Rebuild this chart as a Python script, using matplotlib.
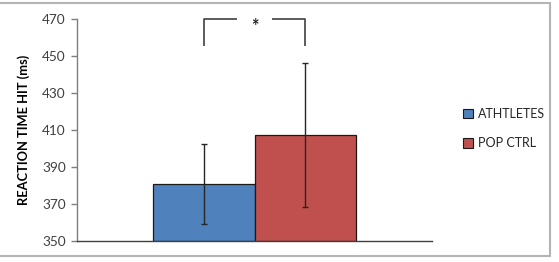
import matplotlib.pyplot as plt
from matplotlib.patches import Rectangle

# data
groups = ["ATHTLETES", "POP CTRL"]
means = [380.6, 407.4]
errors = [21.5, 38.9]
colors = ["#4F81BD", "#C0504D"]
y_ticks = [350, 370, 390, 410, 430, 450, 470]

plt.rcParams["font.family"] = ["Lato", "DejaVu Sans"]

fig = plt.figure(figsize=(5.59, 2.62), dpi=100)
ax = fig.add_axes([77 / 559, 1 - 240.7 / 262, 355 / 559, 221.7 / 262])

x = list(range(len(groups)))
bars = ax.bar(x, [m - y_ticks[0] for m in means], bottom=y_ticks[0], width=1.0,
              color=colors, edgecolor="#1a1a1a", linewidth=0.9, label=None)
ax.errorbar(x, means, yerr=errors, fmt="none", ecolor="#262626",
            elinewidth=1.0, capsize=2.5, capthick=1.0)

ax.set_xlim(-1.25, 2.25)
ax.set_ylim(y_ticks[0], y_ticks[-1])
ax.set_yticks(y_ticks)
ax.set_xticks([])
for s in ["top", "right"]:
    ax.spines[s].set_visible(False)
ax.spines["left"].set_color("#7f7f7f")
ax.spines["bottom"].set_color("#404040")
ax.spines["left"].set_linewidth(1.0)
ax.spines["bottom"].set_linewidth(1.0)
ax.tick_params(axis="y", length=4, width=1.0, color="#7f7f7f",
               labelsize=9.8, labelcolor="#404040", pad=4)
ax.set_ylabel("REACTION TIME HIT (ms)", fontsize=9.3, fontweight="bold",
              labelpad=9)

# significance bracket
top = 470
low = 455.3
ax.plot([x[0], x[0], x[0] + 0.33], [low, top, top], color="#404040",
        lw=1.2, clip_on=False, solid_capstyle="butt")
ax.plot([x[1] - 0.33, x[1], x[1]], [top, top, low], color="#404040",
        lw=1.2, clip_on=False, solid_capstyle="butt")
ax.text((x[0] + x[1]) / 2, 466.0, "*", ha="center", va="center",
        fontsize=13, fontweight="bold", color="#262626")

# legend
handles = [Rectangle((0, 0), 1, 1, facecolor=c, edgecolor="#1a1a1a", lw=0.8)
           for c in colors]
fig.legend(handles, groups, loc="center left",
           bbox_to_anchor=(452 / 559, 1 - 128.5 / 262), frameon=False,
           fontsize=9, handlelength=0.8, handleheight=0.8,
           handletextpad=0.35, labelspacing=1.4, labelcolor="#262626")

# chart border
fig.patches.append(Rectangle((-0.01, 6 / 262), 0.01 + 550 / 559,
                             1 - 8.5 / 262, transform=fig.transFigure,
                             fill=False, edgecolor="#b4b4b4", lw=1.5))

fig.savefig("out.png", dpi=100)
